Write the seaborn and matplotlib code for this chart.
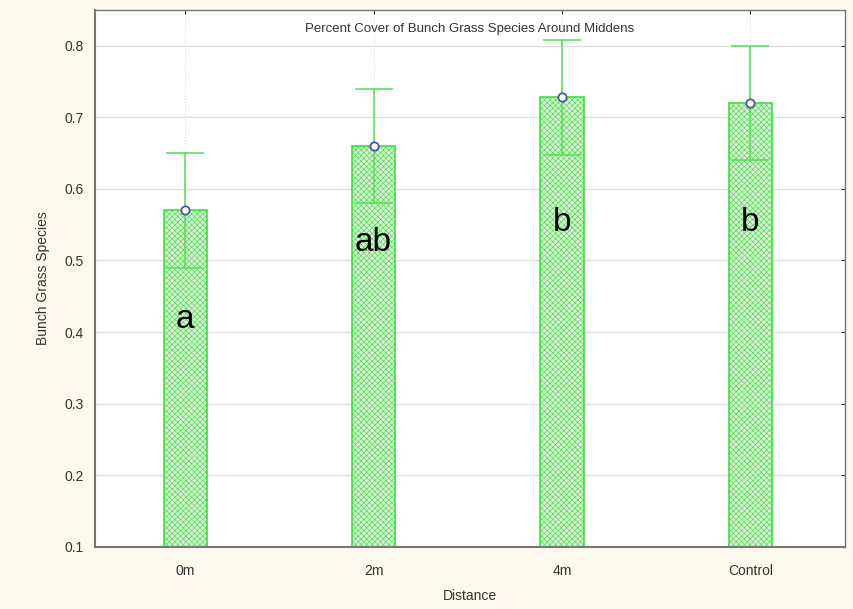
import matplotlib
matplotlib.use('Agg')
import matplotlib.pyplot as plt
import seaborn as sns
import numpy as np

# data
distances = ["0m", "2m", "4m", "Control"]
means = [0.570, 0.660, 0.728, 0.720]
lower = [0.490, 0.580, 0.647, 0.640]
upper = [0.650, 0.740, 0.808, 0.800]
letters = ["a", "ab", "b", "b"]
letter_y = [0.418, 0.525, 0.553, 0.553]

sns.set_style("white")
plt.rcParams['font.family'] = ['Liberation Sans', 'DejaVu Sans']
plt.rcParams['hatch.color'] = '#9fe49a'
plt.rcParams['hatch.linewidth'] = 0.45

fig = plt.figure(figsize=(8.54, 6.09), dpi=100, facecolor='#fdf9ee')
ax = fig.add_axes([0.111, 0.102, 0.878, 0.882])
ax.set_facecolor('white')

sns.barplot(x=distances, y=means, errorbar=None, width=0.23,
            color='#dcf5d6', edgecolor='#3ee03e', linewidth=1.2,
            hatch='xxxxxx', ax=ax, zorder=2)

xs = np.arange(len(distances))
m = np.array(means)
err = [m - np.array(lower), np.array(upper) - m]
ax.errorbar(xs, m, yerr=err, fmt='none', ecolor='#5ce05c', elinewidth=1.2,
            capsize=14, capthick=1.2, zorder=3)
ax.plot(xs, m, 'o', ms=6, mfc='white', mec='#5050b0', mew=1.3, zorder=4)

for x, lab, ly in zip(xs, letters, letter_y):
    ax.text(x, ly, lab, ha='center', va='center', fontsize=24, color='black', zorder=5)

ax.set_ylim(0.1, 0.85)
ax.set_xlim(-0.48, 3.5)
ax.set_yticks(np.arange(0.1, 0.81, 0.1))
ax.set_yticklabels([f"{v:.1f}" for v in np.arange(0.1, 0.81, 0.1)])
ax.grid(True, axis='y', color='#dddddd', linewidth=1, zorder=0)
ax.grid(True, axis='x', color='#dddddd', linewidth=0.8, linestyle=':', zorder=0)
ax.set_axisbelow(True)

ax.tick_params(axis='both', labelsize=10, colors='#333333', length=3,
               direction='in', right=True, top=True)
ax.tick_params(axis='x', pad=12)
ax.tick_params(axis='y', pad=8)
for s in ax.spines.values():
    s.set_color('#777777')
    s.set_linewidth(1)
ax.spines['left'].set_linewidth(1.5)
ax.spines['bottom'].set_linewidth(1.5)

ax.text(0.5, 0.975, "Percent Cover of Bunch Grass Species Around Middens",
        transform=ax.transAxes, ha='center', va='top', fontsize=9.5, color='#333333')
ax.set_xlabel("Distance", fontsize=10, color='#333333', labelpad=8)
ax.set_ylabel("Bunch Grass Species", fontsize=10, color='#333333', labelpad=10)

fig.savefig('out.png', dpi=100, facecolor=fig.get_facecolor())
